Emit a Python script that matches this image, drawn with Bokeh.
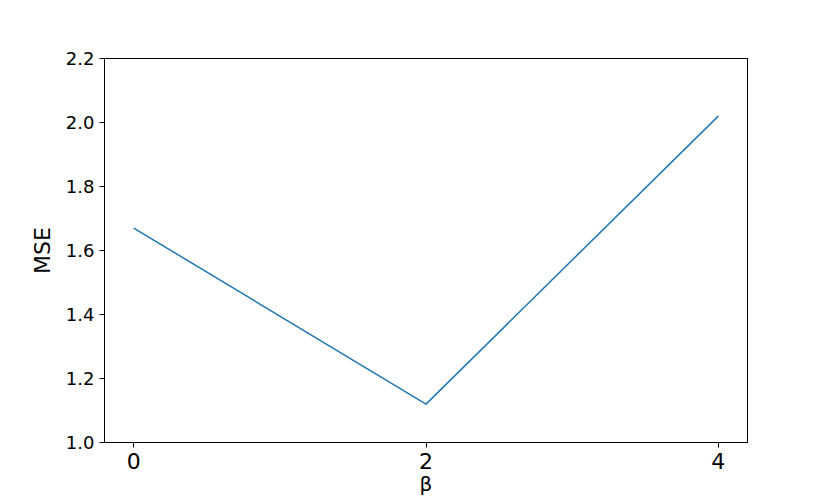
from bokeh.plotting import figure
from bokeh.models import Range1d, FixedTicker, CustomJSTickFormatter
from bokeh.embed import file_html
from bokeh.resources import INLINE

beta = [0, 2, 4]
mse = [1.67, 1.12, 2.02]
x_ticks = [0, 2, 4]
y_ticks = [1.0, 1.2, 1.4, 1.6, 1.8, 2.0, 2.2]

p = figure(width=822, height=498, output_backend="svg", toolbar_location=None,
           x_range=Range1d(-0.2, 4.2), y_range=Range1d(1.0, 2.2),
           min_border_left=104, min_border_right=75, min_border_top=58, min_border_bottom=56)

p.line(beta, mse, line_color="#1f77b4", line_width=1.5)

p.xgrid.visible = False
p.ygrid.visible = False
p.outline_line_color = "black"
p.outline_line_width = 1
p.background_fill_color = "white"
p.border_fill_color = "white"

p.xaxis.ticker = FixedTicker(ticks=x_ticks)
p.yaxis.ticker = FixedTicker(ticks=y_ticks)
p.yaxis.formatter = CustomJSTickFormatter(code="return tick.toFixed(1);")

for ax in (p.xaxis[0], p.yaxis[0]):
    ax.axis_line_color = "black"
    ax.major_tick_line_color = "black"
    ax.major_tick_out = 5
    ax.major_tick_in = 0
    ax.minor_tick_line_color = None
    ax.major_label_text_font = "DejaVu Sans"
    ax.axis_label_text_font = "DejaVu Sans"
    ax.axis_label_text_font_style = "normal"
    ax.major_label_text_color = "black"
    ax.axis_label_text_color = "black"

p.xaxis.major_label_text_font_size = "22px"
p.yaxis.major_label_text_font_size = "18px"
p.xaxis.axis_label = "β"
p.yaxis.axis_label = "MSE"
p.xaxis.axis_label_text_font_size = "20px"
p.yaxis.axis_label_text_font_size = "22px"
p.xaxis.axis_label_standoff = 0
p.yaxis.axis_label_standoff = 8
p.xaxis.major_label_standoff = 5
p.yaxis.major_label_standoff = 5

open("out.html", "w").write(file_html(p, INLINE))
